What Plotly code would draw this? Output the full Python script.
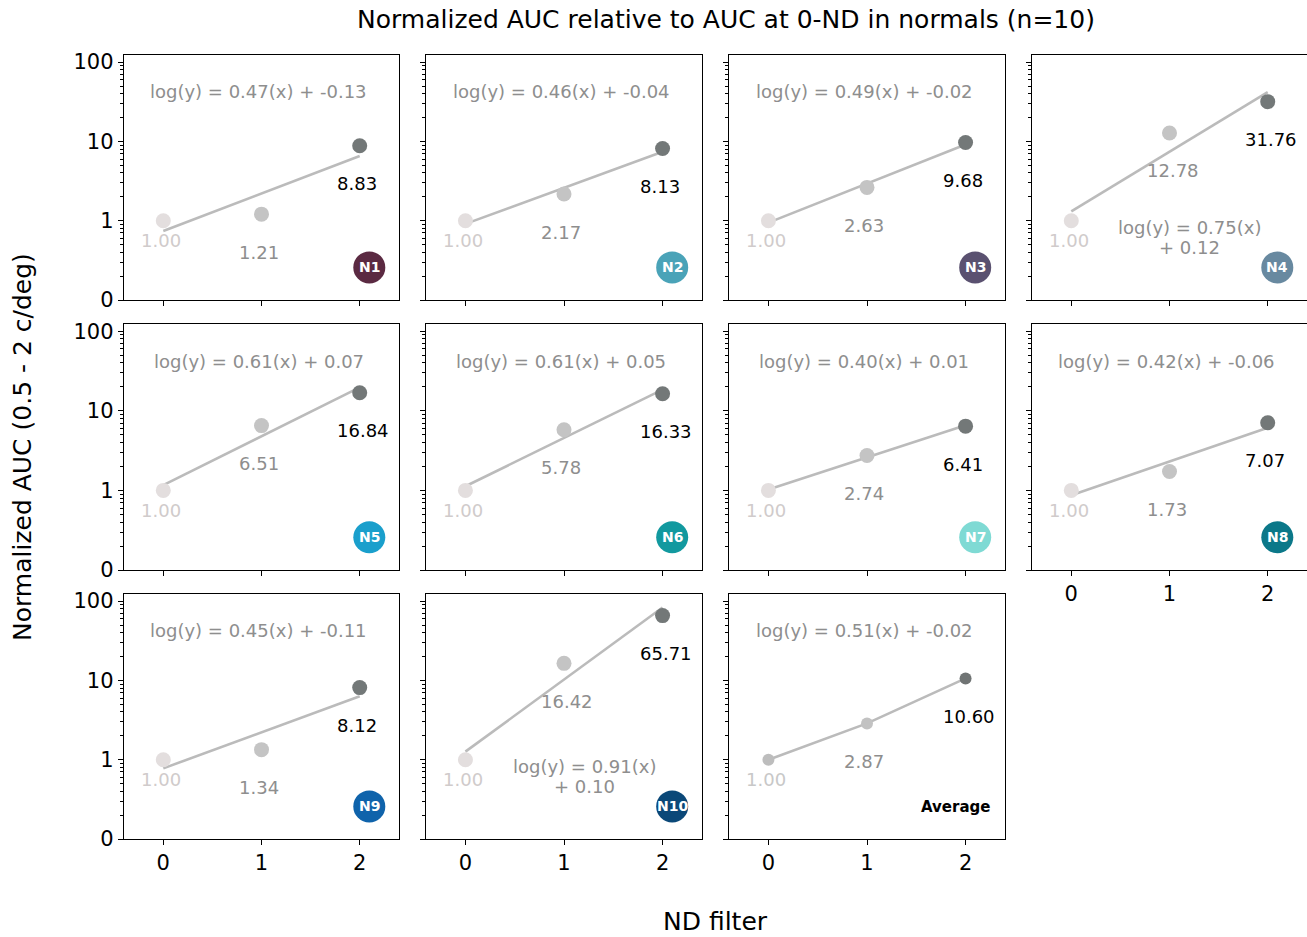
import numpy as np
import plotly.graph_objects as go

# ---------------- data ----------------
nd_levels = [0, 1, 2]
x_tick_labels = ["0", "1", "2"]
y_tick_vals = [0.1, 1, 10, 100]
y_tick_labels = ["0", "1", "10", "100"]
y_minor_vals = [0.2, 0.3, 0.4, 0.5, 0.6, 0.7, 0.8, 0.9,
                2, 3, 4, 5, 6, 7, 8, 9,
                20, 30, 40, 50, 60, 70, 80, 90]

panel_names = ["N1", "N2", "N3", "N4", "N5", "N6", "N7", "N8", "N9", "N10", "Average"]

auc_N1 = [1.00, 1.21, 8.83]
auc_N2 = [1.00, 2.17, 8.13]
auc_N3 = [1.00, 2.63, 9.68]
auc_N4 = [1.00, 12.78, 31.76]
auc_N5 = [1.00, 6.51, 16.84]
auc_N6 = [1.00, 5.78, 16.33]
auc_N7 = [1.00, 2.74, 6.41]
auc_N8 = [1.00, 1.73, 7.07]
auc_N9 = [1.00, 1.34, 8.12]
auc_N10 = [1.00, 16.42, 65.71]
auc_avg = [1.00, 2.87, 10.60]

fit_slopes = [0.47, 0.46, 0.49, 0.75, 0.61, 0.61, 0.40, 0.42, 0.45, 0.91, 0.51]
fit_intercepts = [-0.13, -0.04, -0.02, 0.12, 0.07, 0.05, 0.01, -0.06, -0.11, 0.10, -0.02]

badge_colors = ["#5b2a42", "#4aa3b8", "#5a5170", "#6889a0", "#1a9fcc",
                "#12999f", "#7fdad4", "#0b7889", "#0f63ab", "#0b4878"]

all_auc = [auc_N1, auc_N2, auc_N3, auc_N4, auc_N5, auc_N6, auc_N7,
           auc_N8, auc_N9, auc_N10, auc_avg]

# ---------------- style ----------------
W, H = 1307, 937
FONT = "DejaVu Sans"
col_px = [(124, 399), (426, 702), (729, 1005), (1032, 1307)]
row_px = [(55, 300), (324, 570), (594, 839)]
point_colors = ["#e3dede", "#c4c4c4", "#737878"]
label_colors = ["#d0cbcb", "#8e8e8e", "#000000"]
avg_point_colors = ["#bdbdbd", "#c2c2c2", "#707474"]
avg_label_colors = ["#c8c8c8", "#8e8e8e", "#000000"]
line_color = "#bbbbbb"
eq_color = "#8e8e8e"
wrapped_eq = {"N4", "N10"}

fig = go.Figure()
annotations = []
shapes = []
layout = {}

for i, name in enumerate(panel_names):
    k = i + 1
    r, c = divmod(i, 4)
    xs = "" if k == 1 else str(k)
    xref, yref = "x" + xs, "y" + xs
    vals = all_auc[i]
    is_avg = name == "Average"

    x0p, x1p = col_px[c]
    y0p, y1p = row_px[r]
    show_x_labels = (r == 2) or (c == 3 and r == 1)

    layout["xaxis" + xs] = dict(
        domain=[x0p / W, min(x1p / W, 1.0)], anchor=yref, automargin=False,
        range=[-0.4, 2.4], tickmode="array", tickvals=nd_levels, ticktext=x_tick_labels,
        showticklabels=show_x_labels, ticks="outside", ticklen=5, tickwidth=1.2,
        tickcolor="black", showline=True, linecolor="black", linewidth=1.4,
        mirror=True, showgrid=False, zeroline=False,
        tickfont=dict(family=FONT, size=21, color="black"),
    )
    layout["yaxis" + xs] = dict(
        domain=[1 - y1p / H, 1 - y0p / H], anchor=xref, type="log", automargin=False,
        range=[-1, 2.09], tickmode="array", tickvals=y_tick_vals, ticktext=y_tick_labels,
        showticklabels=(c == 0), ticks="outside", ticklen=5, tickwidth=1.2,
        tickcolor="black", showline=True, linecolor="black", linewidth=1.4,
        mirror=(c < 3), showgrid=False, zeroline=False,
        minor=dict(tickmode="array", tickvals=y_minor_vals, ticks="outside",
                   ticklen=3, tickwidth=1, tickcolor="black", showgrid=False),
        tickfont=dict(family=FONT, size=21, color="black"),
    )

    if is_avg:
        fig.add_trace(go.Scatter(
            x=nd_levels, y=vals, mode="lines+markers", xaxis=xref, yaxis=yref,
            line=dict(color=line_color, width=2.6),
            marker=dict(size=12, color=avg_point_colors), hoverinfo="skip"))
        lcols = avg_label_colors
    else:
        a, b = np.polyfit(nd_levels, np.log10(vals), 1)
        fx = [nd_levels[0], nd_levels[-1]]
        fy = [10 ** (b + a * v) for v in fx]
        fig.add_trace(go.Scatter(
            x=fx, y=fy, mode="lines", xaxis=xref, yaxis=yref,
            line=dict(color=line_color, width=2.6), hoverinfo="skip"))
        fig.add_trace(go.Scatter(
            x=nd_levels, y=vals, mode="markers", xaxis=xref, yaxis=yref,
            marker=dict(size=15, color=point_colors), hoverinfo="skip"))
        lcols = label_colors

    for j, (xv, yv) in enumerate(zip(nd_levels, vals)):
        annotations.append(dict(
            x=xv - 0.25, y=np.log10(yv), xref=xref, yref=yref,
            text=f"{yv:.2f}", showarrow=False, xanchor="left", yanchor="middle",
            yshift=-20 if j == 0 else -38,
            font=dict(family=FONT, size=18, color=lcols[j])))

    s, ic = fit_slopes[i], fit_intercepts[i]
    if name in wrapped_eq:
        for line_txt, shift in [(f"log(y) = {s:.2f}(x)", 10), (f"+ {ic:.2f}", -10)]:
            annotations.append(dict(
                x=0.573, y=0.257, xref=xref + " domain", yref=yref + " domain",
                text=line_txt, showarrow=False, yshift=shift,
                xanchor="center", yanchor="middle",
                font=dict(family=FONT, size=18, color=eq_color)))
    else:
        annotations.append(dict(
            x=0.49, y=0.849, xref=xref + " domain", yref=yref + " domain",
            text=f"log(y) = {s:.2f}(x) + {ic:.2f}", showarrow=False,
            xanchor="center", yanchor="middle",
            font=dict(family=FONT, size=18, color=eq_color)))

    if is_avg:
        annotations.append(dict(
            x=0.82, y=0.13, xref=xref + " domain", yref=yref + " domain",
            text="Average", showarrow=False, xanchor="center", yanchor="middle",
            font=dict(family=FONT, size=15, color="black", weight="bold")))
    else:
        shapes.append(dict(
            type="circle", xref=xref + " domain", yref=yref + " domain",
            xsizemode="pixel", ysizemode="pixel", xanchor=0.892, yanchor=0.133,
            x0=-16, x1=16, y0=-16, y1=16, fillcolor=badge_colors[i],
            line=dict(width=0), layer="above"))
        annotations.append(dict(
            x=0.892, y=0.133, xref=xref + " domain", yref=yref + " domain",
            text=name, showarrow=False, xanchor="center", yanchor="middle",
            font=dict(family=FONT, size=14, color="white", weight="bold")))

annotations.append(dict(
    x=726 / W, y=1 - 20 / H, xref="paper", yref="paper",
    text="Normalized AUC relative to AUC at 0-ND in normals (n=10)", showarrow=False,
    xanchor="center", yanchor="middle", font=dict(family=FONT, size=25, color="black")))
annotations.append(dict(
    x=716 / W, y=1 - 921 / H, xref="paper", yref="paper",
    text="ND filter", showarrow=False,
    xanchor="center", yanchor="middle", font=dict(family=FONT, size=25, color="black")))
annotations.append(dict(
    x=22 / W, y=1 - 447 / H, xref="paper", yref="paper",
    text="Normalized AUC (0.5 - 2 c/deg)", showarrow=False, textangle=-90,
    xanchor="center", yanchor="middle", font=dict(family=FONT, size=25, color="black")))

fig.update_layout(
    width=W, height=H, margin=dict(l=0, r=0, t=0, b=0, autoexpand=False),
    paper_bgcolor="white", plot_bgcolor="white", showlegend=False,
    font=dict(family=FONT, color="black"),
    annotations=annotations, shapes=shapes, **layout)

fig.write_html("out.html")
